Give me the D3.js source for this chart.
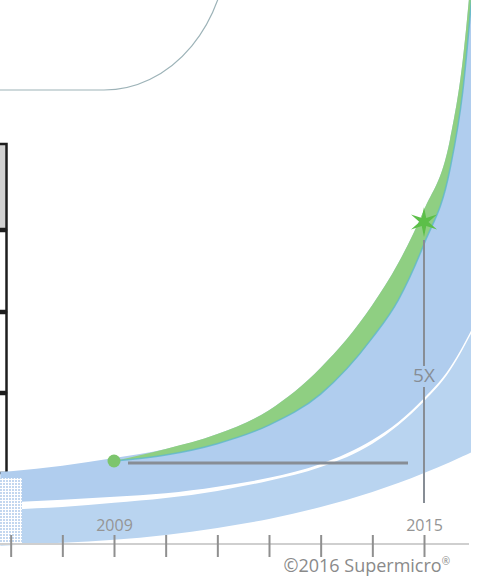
<!DOCTYPE html>
<html>
<head>
<meta charset="utf-8">
<script src="https://cdn.jsdelivr.net/npm/d3@7"></script>
<style>
  body { margin: 0; background: #fff; }
  svg { display: block; font-family: 'Open Sans', 'Liberation Sans', sans-serif; }
</style>
</head>
<body>
<svg id="chart" width="478" height="580"></svg>
<script>
// sample years along the swooshes
const years = [2006.8, 2007, 2008, 2009, 2010, 2011, 2012, 2013, 2014, 2014.5, 2015, 2015.5, 2015.75, 2016];
// relative performance (2009 = 1x)
const upperTop    = [0.82, 0.83, 0.92, 1.05, 1.20, 1.45, 1.85, 2.56, 3.61, 4.31, 5.20, 6.37, 7.71, 10.05];
const upperBottom = [0.30, 0.31, 0.35, 0.40, 0.46, 0.57, 0.72, 0.95, 1.35, 1.65, 2.05, 2.56, 2.92, 3.33];
const greenTop    = [null, null, null, 1.00, 1.20, 1.45, 1.85, 2.56, 3.61, 4.31, 5.20, 6.37, 7.71, 10.05];
const greenBottom = [null, null, null, 1.00, 1.10, 1.29, 1.60, 2.12, 3.06, 3.69, 4.63, 5.87, 7.18, 9.55];
const lowerTop    = [0.16, 0.18, 0.23, 0.30, 0.38, 0.50, 0.67, 0.90, 1.29, 1.60, 2.00, 2.51, 2.87, 3.28];
const lowerBottom = [-0.42, -0.41, -0.37, -0.32, -0.24, -0.12, 0.03, 0.23, 0.48, 0.63, 0.80, 0.98, 1.08, 1.18];

const tickYears = [2007, 2008, 2009, 2010, 2011, 2012, 2013, 2014, 2015];
const labelYears = [2009, 2015];
const startYear = 2009, endYear = 2015;
const startValue = 1, endValue = 5;
const gainLabel = '5X';
const copyright = '©2016 Supermicro';

const svg = d3.select('#chart'),
      width = +svg.attr('width'),
      height = +svg.attr('height');

const x = d3.scaleLinear().domain([2009, 2015]).range([114, 424]);
const y = d3.scaleLinear().domain([1, 5]).range([461, 222]);

const rows = years.map((yr, i) => ({
  yr,
  upperTop: upperTop[i], upperBottom: upperBottom[i],
  greenTop: greenTop[i], greenBottom: greenBottom[i],
  lowerTop: lowerTop[i], lowerBottom: lowerBottom[i]
}));

const defs = svg.append('defs');
defs.append('clipPath').attr('id', 'clip')
  .append('rect').attr('x', 0).attr('y', 0).attr('width', 471).attr('height', 548);

const dots = defs.append('pattern').attr('id', 'dots')
  .attr('width', 3).attr('height', 3).attr('patternUnits', 'userSpaceOnUse');
dots.append('rect').attr('width', 3).attr('height', 3).attr('fill', '#fff');
dots.append('rect').attr('width', 2).attr('height', 2).attr('fill', '#c3d7ef');

// callout frame at the top
svg.append('rect')
  .attr('x', -200).attr('y', -300)
  .attr('width', 428).attr('height', 390)
  .attr('rx', 124).attr('ry', 150)
  .attr('fill', 'none')
  .attr('stroke', '#9db3b8')
  .attr('stroke-width', 1.2);

// table cells on the left
const cellEdges = [143, 230, 312, 393, 474];
d3.range(4).forEach(i => {
  svg.append('rect')
    .attr('x', -20).attr('y', cellEdges[i] + 1)
    .attr('width', 26.5).attr('height', cellEdges[i + 1] - cellEdges[i] - 2)
    .attr('fill', i === 0 ? '#d2d2d2' : '#fff')
    .attr('stroke', '#1e1e1e')
    .attr('stroke-width', 2.5);
});

const g = svg.append('g').attr('clip-path', 'url(#clip)');

const area = (top, bottom) => d3.area()
  .defined(d => d[top] != null)
  .x(d => x(d.yr))
  .y0(d => y(d[bottom]))
  .y1(d => y(d[top]))
  .curve(d3.curveMonotoneX);

const lineOf = key => d3.line()
  .defined(d => d[key] != null)
  .x(d => x(d.yr))
  .y(d => y(d[key]))
  .curve(d3.curveMonotoneX);

// lower swoosh
g.append('path')
  .attr('d', area('lowerTop', 'lowerBottom')(rows))
  .attr('fill', '#b9d4f0');

// upper swoosh
g.append('path')
  .attr('d', area('upperTop', 'upperBottom')(rows))
  .attr('fill', '#b0cdee');

// green band
g.append('path')
  .attr('d', area('greenTop', 'greenBottom')(rows))
  .attr('fill', '#8fcf82');

g.append('path')
  .attr('d', lineOf('greenBottom')(rows))
  .attr('fill', 'none')
  .attr('stroke', '#5fb8cc')
  .attr('stroke-width', 1.5)
  .attr('opacity', 0.8);

// dotted texture bottom-left
svg.append('rect')
  .attr('x', 0).attr('y', 478)
  .attr('width', 22).attr('height', 66)
  .attr('fill', 'url(#dots)');

// axis
const axisY = 544;
svg.append('line')
  .attr('x1', 0).attr('x2', 469)
  .attr('y1', axisY).attr('y2', axisY)
  .attr('stroke', '#cfcfcf').attr('stroke-width', 2);

const axis = svg.append('g')
  .attr('transform', `translate(0,${axisY})`)
  .call(d3.axisBottom(x)
    .tickValues(tickYears)
    .tickSize(13)
    .tickFormat(d => labelYears.includes(d) ? d : ''));

axis.select('.domain').remove();
axis.selectAll('.tick line')
  .attr('y1', -9)
  .attr('stroke', '#8f8f8f')
  .attr('stroke-width', 2);
axis.selectAll('.tick text')
  .attr('y', -13).attr('dy', 0)
  .attr('fill', '#959595')
  .style('font-size', '16px')
  .style('font-family', "'Open Sans', sans-serif");

// reference lines
const grey = '#878d95';
svg.append('line')
  .attr('x1', x(startYear) + 14).attr('x2', x(endYear) - 16)
  .attr('y1', y(startValue) + 2).attr('y2', y(startValue) + 2)
  .attr('stroke', grey).attr('stroke-width', 3);

svg.append('line')
  .attr('x1', x(endYear)).attr('x2', x(endYear))
  .attr('y1', y(endValue) + 18).attr('y2', 366)
  .attr('stroke', grey).attr('stroke-width', 2);
svg.append('line')
  .attr('x1', x(endYear)).attr('x2', x(endYear))
  .attr('y1', 387).attr('y2', 503)
  .attr('stroke', grey).attr('stroke-width', 2);

svg.append('text')
  .attr('x', x(endYear)).attr('y', 382)
  .attr('text-anchor', 'middle')
  .attr('fill', grey)
  .style('font-size', '19px')
  .text(gainLabel);

// start dot and end star
svg.append('circle')
  .attr('cx', x(startYear)).attr('cy', y(startValue))
  .attr('r', 6.5)
  .attr('fill', '#7dc56d');

const starPts = d3.range(12).map(i => [i * Math.PI / 6, i % 2 ? 4.5 : 15]);
svg.append('path')
  .attr('transform', `translate(${x(endYear)},${y(endValue)})`)
  .attr('d', d3.lineRadial().curve(d3.curveLinearClosed)(starPts))
  .attr('fill', '#5cbf48');

// copyright
const cr = svg.append('text')
  .attr('x', 450).attr('y', 572)
  .attr('text-anchor', 'end')
  .attr('fill', '#8a8a8a')
  .style('font-size', '18px')
  .text(copyright);
cr.append('tspan')
  .attr('dy', -7)
  .style('font-size', '10px')
  .text('®');
</script>
</body>
</html>
